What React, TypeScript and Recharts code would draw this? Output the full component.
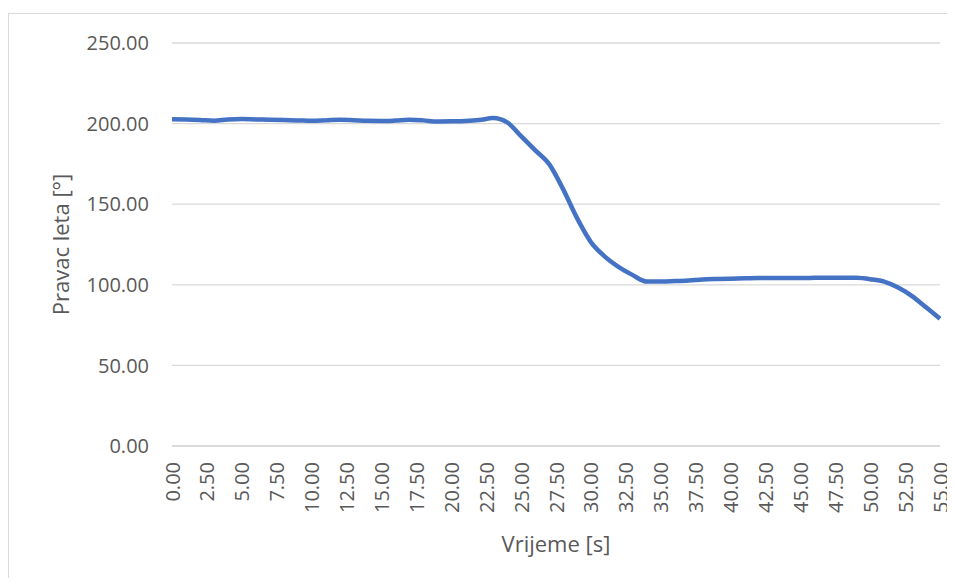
import { LineChart, Line, XAxis, YAxis, CartesianGrid, Label } from 'recharts';

// time in seconds and flight heading in degrees
const times = [
  0, 1, 2, 3, 4, 5, 6, 7, 8, 9, 10, 11, 12, 13, 14, 15, 16, 17, 18, 19, 20, 21, 22, 23,
  24, 25, 26, 27, 28, 29, 30, 31, 32, 33, 34, 35, 36, 37, 38, 39, 40, 41, 42, 43, 44,
  45, 46, 47, 48, 49, 50, 51, 52, 53, 54, 55,
];
const heading = [
  202.7, 202.6, 202.3, 201.8, 202.5, 202.8, 202.6, 202.4, 202.2, 202.0, 201.7, 202.0,
  202.4, 202.1, 201.7, 201.6, 201.9, 202.4, 202.0, 201.3, 201.4, 201.6, 202.2, 203.4,
  200.8, 192.2, 183.5, 175.0, 159.5, 141.5, 126.5, 117.5, 111.0, 106.0, 102.0, 102.0,
  102.3, 102.7, 103.3, 103.6, 103.8, 104.0, 104.2, 104.2, 104.2, 104.2, 104.3, 104.4,
  104.4, 104.3, 103.5, 102.0, 98.3, 93.0, 86.0, 79.0,
];
const xTicks = [
  0, 2.5, 5, 7.5, 10, 12.5, 15, 17.5, 20, 22.5, 25, 27.5, 30, 32.5, 35, 37.5, 40,
  42.5, 45, 47.5, 50, 52.5, 55,
];
const yTicks = [0, 50, 100, 150, 200, 250];

const xTitle = 'Vrijeme [s]';
const yTitle = 'Pravac leta [°]';

const FONT = '"Open Sans", sans-serif';
const TEXT = '#595959';
const GRID = '#d9d9d9';

const chartData = times.map((t, i) => ({ t, v: heading[i] }));

const XTick = ({ x, y, payload }: any) => (
  <text
    x={x}
    y={y}
    transform={`rotate(-90, ${x}, ${y})`}
    textAnchor="end"
    dominantBaseline="central"
    fill={TEXT}
    fontSize={20}
    fontFamily={FONT}
  >
    {Number(payload.value).toFixed(2)}
  </text>
);

export default function App() {
  return (
    <div style={{ width: 947, height: 570, overflow: 'hidden', paddingTop: 5, boxSizing: 'border-box' }}>
      <div style={{ width: 960, height: 600, border: `1px solid ${GRID}`, background: '#fff' }}>
        <LineChart
          width={946}
          height={560}
          data={chartData}
          margin={{ top: 29, right: 15, left: 0, bottom: 0 }}
        >
          <CartesianGrid vertical={false} stroke={GRID} strokeWidth={1.3} />
          <XAxis
            dataKey="t"
            type="number"
            domain={[0, 55]}
            ticks={xTicks}
            interval={0}
            height={128}
            tickSize={0}
            tickMargin={16}
            tickLine={false}
            axisLine={{ stroke: GRID, strokeWidth: 1.3 }}
            tick={<XTick />}
          >
            <Label
              content={({ viewBox }: any) => (
                <text
                  x={viewBox.x + viewBox.width / 2}
                  y={viewBox.y + 97}
                  textAnchor="middle"
                  dominantBaseline="central"
                  fill={TEXT}
                  fontSize={22}
                  fontFamily={FONT}
                >
                  {xTitle}
                </text>
              )}
            />
          </XAxis>
          <YAxis
            type="number"
            domain={[0, 250]}
            ticks={yTicks}
            width={163}
            tickSize={0}
            tickMargin={23}
            axisLine={false}
            tickLine={false}
            tickFormatter={(v: number) => v.toFixed(2)}
            tick={{ fill: TEXT, fontSize: 20, fontFamily: FONT }}
          >
            <Label
              content={({ viewBox }: any) => {
                const cx = 51;
                const cy = viewBox.y + viewBox.height / 2;
                return (
                  <text
                    x={cx}
                    y={cy}
                    transform={`rotate(-90, ${cx}, ${cy})`}
                    textAnchor="middle"
                    dominantBaseline="central"
                    fill={TEXT}
                    fontSize={22}
                    fontFamily={FONT}
                  >
                    {yTitle}
                  </text>
                );
              }}
            />
          </YAxis>
          <Line
            type="monotone"
            dataKey="v"
            stroke="#4472C4"
            strokeWidth={4.5}
            dot={false}
            activeDot={false}
            isAnimationActive={false}
          />
        </LineChart>
      </div>
    </div>
  );
}
